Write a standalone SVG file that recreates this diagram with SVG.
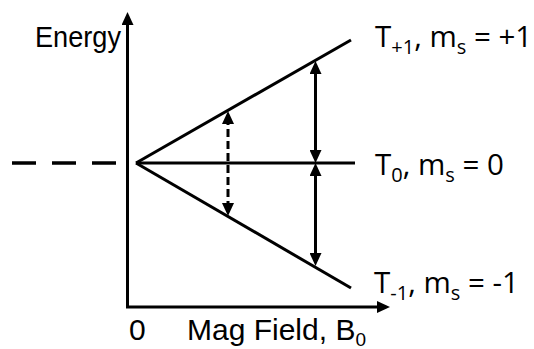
<svg xmlns="http://www.w3.org/2000/svg" width="534" height="349" viewBox="0 0 534 349">
<defs>
<style>
.ln{stroke:#000;stroke-width:3;fill:none}
.ax{stroke:#000;stroke-width:3;fill:none;marker-end:url(#ah)}
.dbl{stroke:#000;stroke-width:3;fill:none;marker-start:url(#ahs);marker-end:url(#ah)}
.dsh{stroke-dasharray:8 4}
.t{font-family:"Liberation Sans",Arial,sans-serif;font-size:30px;fill:#000}
.lv{font-family:"Open Sans","Noto Sans",sans-serif;font-size:29.5px;fill:#000}
.s{font-size:19px}
.lv .s{font-size:20px}
</style>
<marker id="ah" markerUnits="userSpaceOnUse" markerWidth="13" markerHeight="12" refX="7" refY="6" orient="auto" viewBox="0 0 13 12">
<path d="M0,0 L13,6 L0,12 z" fill="#000"/>
</marker>
<marker id="ahs" markerUnits="userSpaceOnUse" markerWidth="13" markerHeight="12" refX="6" refY="6" orient="auto" viewBox="0 0 13 12">
<path d="M13,0 L0,6 L13,12 z" fill="#000"/>
</marker>
</defs>
<g id="axes">
<line class="ax" x1="127.5" y1="307" x2="127.5" y2="18"/>
<line class="ax" x1="126" y1="307" x2="384" y2="307"/>
</g>
<g id="levels">
<line class="ln" x1="12" y1="163" x2="116" y2="163" style="stroke-dasharray:24 16;stroke-width:3.5"/>
<line class="ln" x1="136" y1="163" x2="351" y2="40"/>
<line class="ln" x1="136" y1="163" x2="355" y2="163"/>
<line class="ln" x1="136" y1="163" x2="351" y2="288"/>
</g>
<g id="connectors">
<line class="dbl" x1="315.5" y1="67" x2="315.5" y2="157"/>
<line class="dbl" x1="315.5" y1="169" x2="315.5" y2="260"/>
<line class="dbl dsh" x1="228" y1="117" x2="228" y2="210"/>
</g>
<g id="labels">
<text class="t" x="35" y="47" textLength="86" lengthAdjust="spacingAndGlyphs">Energy</text>
<text class="t" x="129" y="340">0</text>
<text class="t" x="187" y="340">Mag Field, B<tspan class="s" dy="6">0</tspan></text>
<text class="lv" x="375" y="47">T<tspan class="s" dy="7">+1</tspan><tspan dy="-7">, m</tspan><tspan class="s" dy="7">s</tspan><tspan dy="-7"> = +1</tspan></text>
<text class="lv" x="375" y="175">T<tspan class="s" dy="7">0</tspan><tspan dy="-7">, m</tspan><tspan class="s" dy="7">s</tspan><tspan dy="-7"> = 0</tspan></text>
<text class="lv" x="374" y="293">T<tspan class="s" dy="7">-1</tspan><tspan dy="-7">, m</tspan><tspan class="s" dy="7">s</tspan><tspan dy="-7"> = -1</tspan></text>
</g>
</svg>
